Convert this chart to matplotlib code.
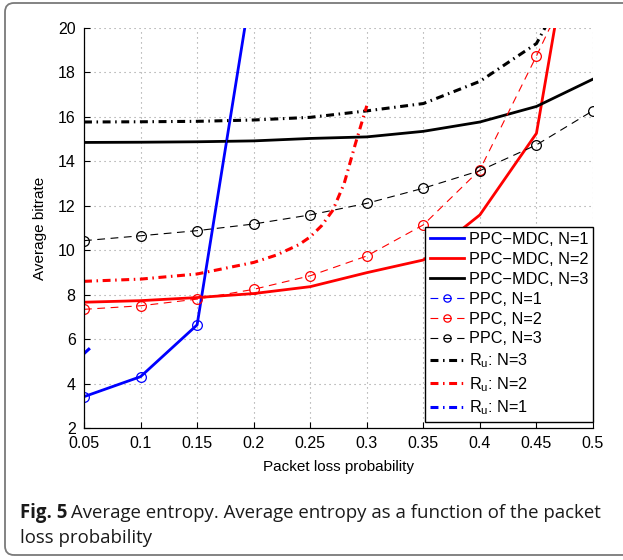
import numpy as np
import matplotlib
matplotlib.use("Agg")
import matplotlib.pyplot as plt
from matplotlib.patches import FancyBboxPatch

# Packet loss probabilities
p = [0.05, 0.10, 0.15, 0.20, 0.25, 0.30, 0.35, 0.40, 0.45, 0.50]

# PPC-MDC (solid)
mdc_n1 = [3.41, 4.31, 6.64, 22.5]
mdc_n2 = [7.66, 7.73, 7.87, 8.05, 8.36, 8.99, 9.56, 11.59, 15.26, 30.0]
mdc_n3 = [14.85, 14.86, 14.88, 14.92, 15.03, 15.10, 15.35, 15.77, 16.47, 17.70]

# PPC (dashed, circles)
ppc_n1 = [3.41, 4.31, 6.64, 22.5]
ppc_n2 = [7.34, 7.50, 7.80, 8.24, 8.85, 9.74, 11.14, 13.62, 18.74, 24.1]
ppc_n3 = [10.43, 10.65, 10.88, 11.18, 11.59, 12.11, 12.79, 13.58, 14.74, 16.28]

# R_u bounds (dash-dot)
ru_n3 = [15.77, 15.78, 15.80, 15.86, 15.98, 16.27, 16.60, 17.60, 19.30, 24.0]
p_ru2 = [0.05, 0.10, 0.15, 0.20, 0.22, 0.24, 0.25, 0.26, 0.27, 0.28, 0.29, 0.30]
ru_n2 = [8.60, 8.70, 8.93, 9.45, 9.78, 10.25, 10.60, 11.10, 11.80, 13.00, 14.80, 16.50]
p_ru1 = [0.05, 0.058]
ru_n1 = [5.35, 5.72]

xticks = [0.05, 0.1, 0.15, 0.2, 0.25, 0.3, 0.35, 0.4, 0.45, 0.5]
xticklabels = ["0.05", "0.1", "0.15", "0.2", "0.25", "0.3", "0.35", "0.4", "0.45", "0.5"]
yticks = [2, 4, 6, 8, 10, 12, 14, 16, 18, 20]

plt.rcParams['font.family'] = ['Liberation Sans', 'DejaVu Sans']
plt.rcParams['mathtext.fontset'] = 'custom'
plt.rcParams['mathtext.rm'] = 'Liberation Sans'
plt.rcParams['mathtext.it'] = 'Liberation Sans'

fig = plt.figure(figsize=(6.23, 5.6), dpi=100)
ax = fig.add_axes([84 / 623, 1 - 428 / 560, (593 - 84) / 623, 400 / 560])

BLUE, RED, BLACK = (0, 0, 1), (1, 0, 0), (0, 0, 0)
dd = (2.6, 1.5, 0.5, 1.5)

ax.plot(p[:4], mdc_n1, color=BLUE, lw=2, label="PPC\u2212MDC, N=1")
ax.plot(p, mdc_n2, color=RED, lw=2, label="PPC\u2212MDC, N=2")
ax.plot(p, mdc_n3, color=BLACK, lw=2, label="PPC\u2212MDC, N=3")
ax.plot(p[:4], ppc_n1, color=BLUE, lw=0.8, ls=(0, (7, 5)), marker='o', ms=7,
        mfc='none', mew=0.9, label="PPC, N=1")
ax.plot(p, ppc_n2, color=RED, lw=0.8, ls=(0, (7, 5)), marker='o', ms=7,
        mfc='none', mew=0.9, label="PPC, N=2")
ax.plot(p, ppc_n3, color=BLACK, lw=0.8, ls=(0, (7, 5)), marker='o', ms=7,
        mfc='none', mew=0.9, label="PPC, N=3")
ax.plot(p, ru_n3, color=BLACK, lw=2.2, ls=(0, dd), label="R$_{\\mathrm{u}}$: N=3")
ax.plot(p_ru2, ru_n2, color=RED, lw=2.2, ls=(0, dd), label="R$_{\\mathrm{u}}$: N=2")
ax.plot(p_ru1, ru_n1, color=BLUE, lw=2.2, ls=(0, dd), label="R$_{\\mathrm{u}}$: N=1")

ax.set_xlim(0.05, 0.5)
ax.set_ylim(2, 20)
ax.set_xticks(xticks)
ax.set_xticklabels(xticklabels)
ax.set_yticks(yticks)
ax.tick_params(direction='in', length=4, width=0.8, labelsize=11.5, pad=6)
ax.grid(True, color='#999999', ls=(0, (1, 3.5)), lw=0.8)
for s in ['top', 'right']:
    ax.spines[s].set_visible(False)
for s in ['left', 'bottom']:
    ax.spines[s].set_linewidth(0.9)
ax.set_xlabel("Packet loss probability", fontsize=11, labelpad=6)
ax.set_ylabel("Average bitrate", fontsize=11, labelpad=8)

leg = ax.legend(loc='lower right', bbox_to_anchor=(1.0, 0.015), fontsize=11.7,
                frameon=True, fancybox=False, framealpha=1, edgecolor='black',
                handlelength=2.1, handletextpad=0.3, labelspacing=0.3,
                borderpad=0.3, borderaxespad=0.0, markerscale=0.75)
leg.get_frame().set_linewidth(1.0)

# Caption box with rounded corners
box = FancyBboxPatch((0.05, 0.05), 6.6, 5.52, boxstyle="round,pad=0,rounding_size=0.09",
                     transform=fig.dpi_scale_trans, facecolor='none',
                     edgecolor='#7a7a7a', lw=1.3)
fig.add_artist(box)

cap_font = ['Open Sans', 'DejaVu Sans']
cap_size = 13.45
t1 = fig.text(20 / 623, 1 - 518 / 560, "Fig. 5", fontsize=cap_size, fontweight='bold',
              family=cap_font, va='baseline', ha='left', color='#1a1a1a')
fig.canvas.draw()
bb = t1.get_window_extent()
fig.text((bb.x1 + 4) / 623, 1 - 518 / 560,
         "Average entropy. Average entropy as a function of the packet",
         fontsize=cap_size, family=cap_font, va='baseline', ha='left', color='#1a1a1a')
fig.text(20 / 623, 1 - 543 / 560, "loss probability", fontsize=cap_size,
         family=cap_font, va='baseline', ha='left', color='#1a1a1a')

fig.savefig("out.png", dpi=100)
